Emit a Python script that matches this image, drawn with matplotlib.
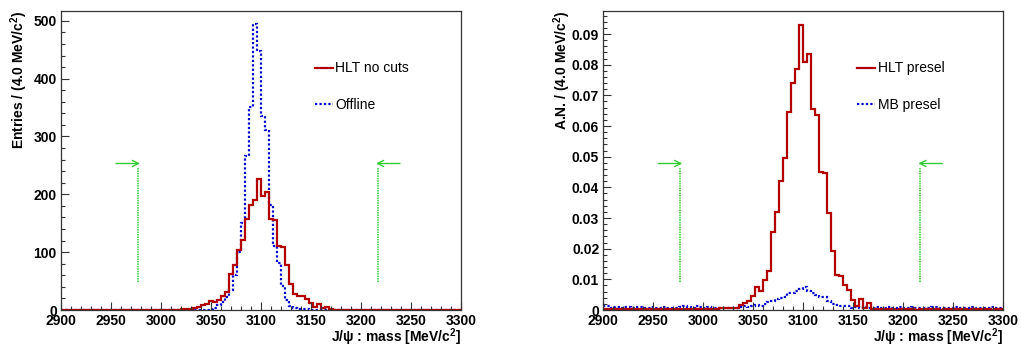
import numpy as np
import matplotlib
matplotlib.use('Agg')
import matplotlib.pyplot as plt
from matplotlib.ticker import MultipleLocator, FuncFormatter

plt.rcParams['font.family'] = ['Liberation Sans', 'DejaVu Sans']
plt.rcParams['mathtext.default'] = 'regular'

# binning of the J/psi mass histograms (MeV/c^2)
BIN_LO, BIN_HI, BIN_W = 2900, 3300, 4
# mass window cuts shown by the green arrows
CUT_LO, CUT_HI = 2977, 3217

# left panel: entries per bin
hlt_nocuts = [
    0, 0, 0, 0, 0, 0, 0, 0, 0, 0,
    0, 0, 0, 0, 0, 0, 0, 0, 0, 0,
    0, 0, 0, 0, 0, 0, 0, 0, 0, 0,
    1, 1, 2, 4, 6, 8, 10, 16, 14, 18,
    24, 31, 62, 78, 104, 121, 158, 181, 191, 227,
    197, 204, 158, 156, 110, 109, 77, 45, 28, 25,
    24, 19, 12, 6, 10, 3, 5, 1, 0, 0,
    0, 0, 0, 0, 0, 0, 0, 0, 0, 0,
    0, 0, 0, 0, 0, 0, 0, 0, 0, 0,
    0, 0, 0, 0, 0, 0, 0, 0, 0, 0,
]
offline = [
    0, 0, 0, 0, 0, 0, 0, 0, 0, 0,
    0, 0, 0, 0, 0, 0, 0, 0, 0, 0,
    0, 0, 0, 0, 0, 0, 0, 0, 0, 0,
    0, 0, 0, 0, 0, 0, 0, 1, 3, 8,
    14, 22, 35, 60, 100, 150, 266, 351, 494, 447,
    336, 311, 182, 110, 81, 41, 18, 7, 3, 2,
    1, 1, 0, 0, 0, 0, 0, 0, 0, 0,
    0, 0, 0, 0, 0, 0, 0, 0, 0, 0,
    0, 0, 0, 0, 0, 0, 0, 0, 0, 0,
    0, 0, 0, 0, 0, 0, 0, 0, 0, 0,
]

# right panel: area normalised
hlt_presel = [
    0.0002, 0.0002, 0.0003, 0.0002, 0.0002, 0.0003, 0.0002, 0.0002, 0.0003, 0.0002,
    0.0002, 0.0003, 0.0002, 0.0002, 0.0003, 0.0002, 0.0002, 0.0003, 0.0002, 0.0002,
    0.0003, 0.0002, 0.0002, 0.0003, 0.0002, 0.0003, 0.0002, 0.0004, 0.0003, 0.0005,
    0.0005, 0.0006, 0.0006, 0.0008, 0.0017, 0.0023, 0.0030, 0.0047, 0.0074, 0.0063,
    0.0099, 0.0126, 0.0254, 0.0320, 0.0421, 0.0496, 0.0646, 0.0741, 0.0787, 0.0928,
    0.0809, 0.0834, 0.0657, 0.0635, 0.0451, 0.0446, 0.0316, 0.0191, 0.0115, 0.0110,
    0.0082, 0.0066, 0.0034, 0.0012, 0.0036, 0.0007, 0.0023, 0.0003, 0.0002, 0.0002,
    0.0003, 0.0002, 0.0002, 0.0001, 0.0002, 0.0003, 0.0002, 0.0002, 0.0001, 0.0002,
    0.0002, 0.0003, 0.0002, 0.0002, 0.0001, 0.0002, 0.0002, 0.0003, 0.0002, 0.0002,
    0.0002, 0.0001, 0.0002, 0.0003, 0.0002, 0.0002, 0.0002, 0.0001, 0.0002, 0.0002,
]
mb_presel = [
    0.0014, 0.0012, 0.0008, 0.0010, 0.0006, 0.0009, 0.0011, 0.0007, 0.0009, 0.0010,
    0.0006, 0.0008, 0.0011, 0.0007, 0.0005, 0.0009, 0.0007, 0.0005, 0.0008, 0.0011,
    0.0013, 0.0010, 0.0008, 0.0012, 0.0009, 0.0007, 0.0010, 0.0006, 0.0008, 0.0005,
    0.0007, 0.0006, 0.0008, 0.0007, 0.0010, 0.0012, 0.0011, 0.0014, 0.0015, 0.0013,
    0.0020, 0.0026, 0.0030, 0.0036, 0.0040, 0.0043, 0.0056, 0.0057, 0.0062, 0.0068,
    0.0075, 0.0063, 0.0056, 0.0050, 0.0044, 0.0043, 0.0030, 0.0018, 0.0016, 0.0014,
    0.0012, 0.0013, 0.0008, 0.0010, 0.0007, 0.0009, 0.0006, 0.0008, 0.0010, 0.0007,
    0.0005, 0.0009, 0.0007, 0.0006, 0.0010, 0.0008, 0.0006, 0.0009, 0.0007, 0.0005,
    0.0008, 0.0006, 0.0009, 0.0010, 0.0007, 0.0006, 0.0008, 0.0005, 0.0009, 0.0007,
    0.0006, 0.0008, 0.0010, 0.0007, 0.0005, 0.0008, 0.0006, 0.0009, 0.0007, 0.0008,
]

RED = '#b30000'
BLUE = '#0000cc'
GREEN = '#33cc33'
DOTS = (0, (1, 1))


def style_axes(ax, ymax, ymajor, yminor, yfmt, ylabel):
    ax.set_xlim(BIN_LO, BIN_HI)
    ax.set_ylim(0, ymax)
    ax.xaxis.set_major_locator(MultipleLocator(50))
    ax.xaxis.set_minor_locator(MultipleLocator(10))
    ax.yaxis.set_major_locator(MultipleLocator(ymajor))
    ax.yaxis.set_minor_locator(MultipleLocator(yminor))
    ax.yaxis.set_major_formatter(FuncFormatter(yfmt))
    ax.tick_params(which='both', direction='in', top=False, right=False,
                   width=0.8, color='#333333')
    ax.tick_params(which='major', length=6, labelsize=10, pad=3)
    ax.tick_params(which='minor', length=3)
    for lab in ax.get_xticklabels() + ax.get_yticklabels():
        lab.set_fontweight('bold')
    for sp in ax.spines.values():
        sp.set_linewidth(0.9)
        sp.set_color('#333333')
    ax.set_xlabel(r'J/$\psi$ : mass [MeV/c$^2$]', fontsize=10,
                  fontweight='bold', loc='right')
    ax.xaxis.set_label_coords(1.0, -0.055)
    ax.set_ylabel(ylabel, fontsize=10, fontweight='bold', loc='top')
    ax.yaxis.set_label_coords(-0.077, 1.0)


def draw_cuts(ax, ymax):
    y0, y1, ya = 0.093 * ymax, 0.474 * ymax, 0.49 * ymax
    for xc, dx in ((CUT_LO, -22), (CUT_HI, 22)):
        ax.plot([xc, xc], [y0, y1], color=GREEN, lw=1.1, ls=(0, (1, 0.6)))
        ax.annotate('', xy=(xc - np.sign(dx) * 2, ya), xytext=(xc + dx, ya),
                    arrowprops=dict(arrowstyle='->', color=GREEN, lw=1,
                                    mutation_scale=11, shrinkA=0, shrinkB=0))


def main():
    edges = np.arange(BIN_LO, BIN_HI + BIN_W, BIN_W)
    fig = plt.figure(figsize=(10.21, 3.5), dpi=100)
    axl = fig.add_axes([61 / 1021, 40 / 350, 400 / 1021, 299 / 350])
    axr = fig.add_axes([603.3 / 1021, 40 / 350, 400 / 1021, 299 / 350])

    axl.stairs(offline, edges, baseline=None, color=BLUE, lw=1.6, ls=DOTS,
               label='Offline')
    axl.stairs(hlt_nocuts, edges, baseline=None, color=RED, lw=1.6,
               label='HLT no cuts')
    style_axes(axl, 517, 100, 20, lambda v, p: '%d' % v,
               'Entries / (4.0 MeV/c$^2$)')
    draw_cuts(axl, 517)

    axr.stairs(mb_presel, edges, baseline=None, color=BLUE, lw=1.6, ls=DOTS,
               label='MB presel')
    axr.stairs(hlt_presel, edges, baseline=None, color=RED, lw=1.6,
               label='HLT presel')
    style_axes(axr, 0.0975, 0.01, 0.002,
               lambda v, p: '0' if abs(v) < 1e-9 else '%.2f' % v,
               'A.N. / (4.0 MeV/c$^2$)')
    draw_cuts(axr, 0.0975)

    for ax in (axl, axr):
        h, l = ax.get_legend_handles_labels()
        ax.legend(h[::-1], l[::-1], loc='upper left', bbox_to_anchor=(0.62, 0.85),
                  frameon=False, fontsize=10, handlelength=1.3,
                  handletextpad=0.2, labelspacing=1.65, borderaxespad=0)

    fig.savefig('out.png', dpi=100)


if __name__ == '__main__':
    main()
